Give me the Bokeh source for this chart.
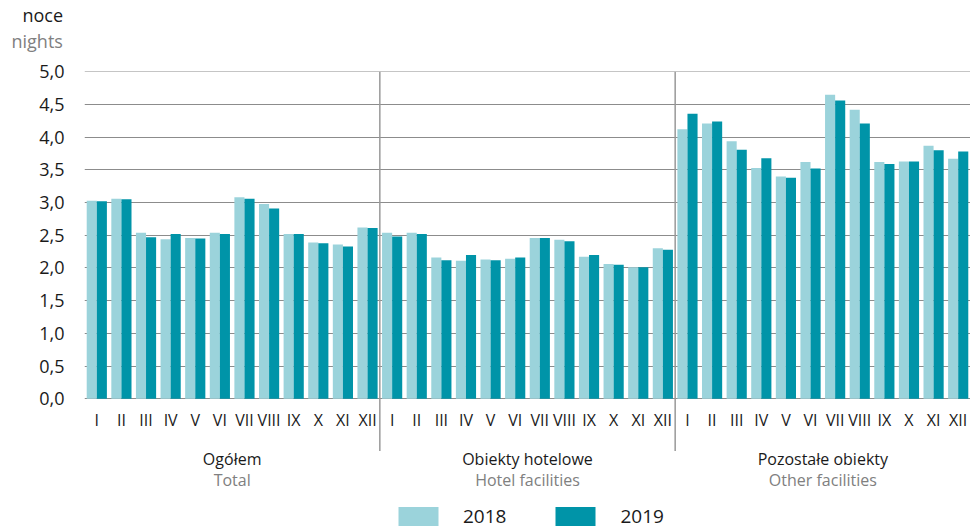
from bokeh.plotting import figure
from bokeh.models import (FactorRange, Range1d, FixedTicker, CustomJSTickFormatter,
                          ColumnDataSource, Legend, LegendItem, Title)
from bokeh.transform import dodge
from bokeh.core.properties import value
from bokeh.embed import file_html
from bokeh.resources import INLINE

# ---- data ----
months = ["I", "II", "III", "IV", "V", "VI", "VII", "VIII", "IX", "X", "XI", "XII"]
groups_pl = ["Ogółem", "Obiekty hotelowe", "Pozostałe obiekty"]
groups_en = ["Total", "Hotel facilities", "Other facilities"]
years = ["2018", "2019"]
unit_pl = "noce"
unit_en = "nights"
y_ticks = [0.0, 0.5, 1.0, 1.5, 2.0, 2.5, 3.0, 3.5, 4.0, 4.5, 5.0]

total_2018 = [3.03, 3.06, 2.54, 2.44, 2.46, 2.54, 3.08, 2.98, 2.52, 2.39, 2.36, 2.62]
total_2019 = [3.02, 3.05, 2.47, 2.52, 2.45, 2.52, 3.06, 2.91, 2.52, 2.38, 2.33, 2.61]
hotel_2018 = [2.54, 2.54, 2.16, 2.11, 2.13, 2.14, 2.46, 2.43, 2.17, 2.06, 2.01, 2.30]
hotel_2019 = [2.48, 2.52, 2.12, 2.20, 2.12, 2.16, 2.46, 2.41, 2.20, 2.05, 2.01, 2.28]
other_2018 = [4.12, 4.21, 3.94, 3.53, 3.40, 3.62, 4.65, 4.42, 3.62, 3.63, 3.87, 3.67]
other_2019 = [4.36, 4.24, 3.81, 3.68, 3.38, 3.52, 4.56, 4.21, 3.59, 3.63, 3.80, 3.78]

# ---- styles ----
FONT = "Open Sans"
C18 = "#9bd3db"
C19 = "#0094a8"
GRID = "#8c8c8c"
GRAY_TXT = "#808080"
TXT = "#1a1a1a"

factors = [(g, m) for g in groups_pl for m in months]
src = ColumnDataSource(dict(
    x=factors,
    m=months * 3,
    y18=total_2018 + hotel_2018 + other_2018,
    y19=total_2019 + hotel_2019 + other_2019,
))

x_range = FactorRange(*factors, factor_padding=0, group_padding=0, range_padding=0)
p = figure(width=970, height=529, x_range=x_range, y_range=Range1d(-2.0, 5.005),
           output_backend="svg", toolbar_location=None, x_axis_location=None,
           min_border_left=84, min_border_right=0, min_border_top=71, min_border_bottom=0,
           outline_line_color=None)

ticker = FixedTicker(ticks=y_ticks)
p.yaxis.ticker = ticker
p.yaxis.formatter = CustomJSTickFormatter(code="return tick.toFixed(1).replace('.', ',');")
p.yaxis.axis_line_color = None
p.yaxis.major_tick_line_color = None
p.yaxis.minor_tick_line_color = None
p.yaxis.major_tick_out = 0
p.yaxis.major_label_standoff = 20
p.yaxis.major_label_text_font = FONT
p.yaxis.major_label_text_font_size = "18px"
p.yaxis.major_label_text_color = TXT

p.xgrid.visible = False
p.ygrid.ticker = ticker
p.ygrid.grid_line_color = GRID
p.ygrid.grid_line_width = 1

r18 = p.vbar(x=dodge("x", -0.205, range=p.x_range), top="y18", width=0.41, source=src,
             fill_color=C18, line_color=None)
r19 = p.vbar(x=dodge("x", 0.205, range=p.x_range), top="y19", width=0.41, source=src,
             fill_color=C19, line_color=None)

# group separators
sep = ColumnDataSource(dict(sx=[(groups_pl[0], months[-1]), (groups_pl[1], months[-1])]))
p.segment(x0=dodge("sx", 0.5, range=p.x_range), y0=5.0,
          x1=dodge("sx", 0.5, range=p.x_range), y1=-0.80,
          source=sep, line_color="#999999", line_width=1.5)

# month labels
p.text(x="x", y=-0.33, text="m", source=src, text_align="center", text_baseline="middle",
       text_font=value(FONT), text_font_size="16px", text_color=TXT)

# group labels
gsrc = ColumnDataSource(dict(g=groups_pl, en=groups_en))
p.text(x="g", y=-0.92, text="g", source=gsrc, text_align="center", text_baseline="middle",
       text_font=value(FONT), text_font_size="16px", text_color=TXT)
p.text(x="g", y=-1.24, text="en", source=gsrc, text_align="center", text_baseline="middle",
       text_font=value(FONT), text_font_size="16px", text_color=GRAY_TXT)

# legend
legend = Legend(items=[LegendItem(label=years[0], renderers=[r18]),
                       LegendItem(label=years[1], renderers=[r19])],
                orientation="horizontal", location=(309, 0),
                glyph_width=50, glyph_height=24, label_standoff=20, spacing=44,
                padding=0, margin=0, border_line_color=None, background_fill_alpha=0,
                label_text_font=FONT, label_text_font_size="19px", label_text_color=TXT)
p.add_layout(legend, "center")

# unit titles above the value axis (a blank spacer keeps them off the top gridline)
p.add_layout(Title(text=" ", text_font_size="1px", standoff=16), "above")
p.add_layout(Title(text=unit_en, align="left", offset=-73, standoff=0, text_font=FONT,
                   text_font_size="18px", text_font_style="normal", text_color=GRAY_TXT), "above")
p.add_layout(Title(text=unit_pl, align="left", offset=-62, standoff=0, text_font=FONT,
                   text_font_size="18px", text_font_style="normal", text_color=TXT), "above")

open("out.html", "w").write(file_html(p, INLINE))
